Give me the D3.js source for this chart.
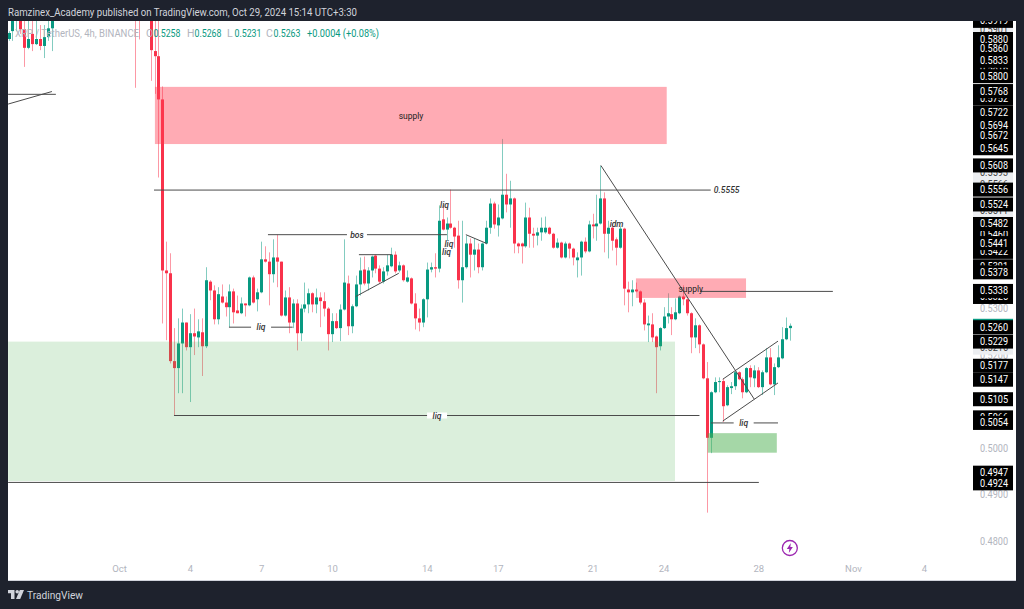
<!DOCTYPE html>
<html>
<head>
<meta charset="utf-8">
<script src="https://cdn.jsdelivr.net/npm/d3@7"></script>
<style>
html, body { margin: 0; padding: 0; background: #1e222d; }
svg { display: block; }
text { font-family: Roboto, sans-serif; }
</style>
</head>
<body>
<div class="canva"></div>
<script>
const n = null; // candle above the visible window, not readable

// 4h candles, first one is 28 candles before Oct 1
const firstCandle = -28;
const opens = [
.5880,.5897,.5930,.5925,.5901,.5861,.5891,.5869,.5880,.5865,
.5884,.5903,n,n,n,n,n,n,n,n,
n,n,n,n,n,n,n,n,n,n,
n,n,.6000,.5990,n,n,.5960,.5854,.5843,.5750,
.5382,.5376,.5187,.5172,.5225,.5270,.5217,.5247,.5238,.5249,
.5219,.5358,.5339,.5277,.5326,.5313,.5303,.5337,.5296,.5290,
.5311,.5307,.5367,.5320,.5335,.5406,.5401,.5374,.5410,.5401,
.5285,.5324,.5270,.5311,.5247,.5300,.5309,.5333,.5309,.5324,
.5316,.5300,.5245,.5273,.5258,.5298,.5354,.5262,.5305,.5352,
.5384,.5354,.5382,.5414,.5386,.5358,.5380,.5391,.5416,.5382,
.5393,.5358,.5365,.5311,.5279,.5270,.5320,.5384,.5389,.5386,
.5492,.5470,.5483,.5474,.5457,.5361,.5389,.5440,.5416,.5427,
.5389,.5440,.5474,.5526,.5479,.5494,.5545,.5524,.5537,.5440,
.5440,.5434,.5496,.5461,.5457,.5464,.5464,.5474,.5461,.5431,
.5442,.5410,.5440,.5429,.5404,.5410,.5444,.5423,.5481,.5477,
.5483,.5537,.5461,.5474,.5449,.5431,.5472,.5341,.5335,.5341,
.5337,.5313,.5264,.5266,.5240,.5219,.5258,.5283,.5288,.5277,
.5290,.5326,.5320,.5290,.5238,.5264,.5223,.5150,.5022,.5120,
.5142,.5144,.5092,.5129,.5133,.5163,.5148,.5120,.5172,.5150,
.5167,.5131,.5163,.5195,.5137,.5174,.5193,.5234,.5258];
const highs = [
.5897,.5950,.5960,.5950,.5930,.5925,.5925,.5920,.5910,.5910,
.5925,.5940,n,n,n,n,n,n,n,n,
n,n,n,n,n,n,n,n,n,n,
n,n,.6050,.6020,n,n,.5990,.5930,.5930,.5778,
.5444,.5419,.5258,.5279,.5300,.5270,.5288,.5300,.5277,.5279,
.5389,.5361,.5350,.5346,.5352,.5326,.5352,.5343,.5328,.5324,
.5311,.5369,.5371,.5343,.5444,.5434,.5421,.5449,.5459,.5401,
.5339,.5346,.5320,.5320,.5309,.5356,.5343,.5335,.5343,.5335,
.5335,.5303,.5290,.5290,.5309,.5449,.5371,.5309,.5371,.5410,
.5412,.5389,.5414,.5416,.5393,.5389,.5416,.5431,.5423,.5401,
.5395,.5382,.5367,.5333,.5300,.5322,.5399,.5399,.5419,.5522,
.5522,.5496,.5556,.5476,.5489,.5489,.5457,.5451,.5451,.5440,
.5442,.5489,.5537,.5530,.5524,.5665,.5590,.5575,.5539,.5442,
.5442,.5528,.5517,.5474,.5474,.5496,.5498,.5476,.5463,.5451,
.5444,.5444,.5442,.5431,.5421,.5446,.5453,.5489,.5504,.5545,
.5607,.5550,.5489,.5483,.5453,.5477,.5474,.5358,.5361,.5356,
.5339,.5320,.5285,.5290,.5242,.5260,.5303,.5333,.5303,.5322,
.5328,.5350,.5322,.5292,.5279,.5266,.5225,.5185,.5122,.5152,
.5152,.5150,.5135,.5142,.5167,.5165,.5152,.5174,.5178,.5178,
.5174,.5167,.5215,.5215,.5182,.5221,.5260,.5281,.5268];
const lows = [
.5876,.5876,.5897,.5891,.5820,.5858,.5854,.5867,.5856,.5839,
.5876,.5854,n,n,n,n,n,n,n,n,
n,n,n,n,n,n,n,n,n,n,
n,n,.5775,.5879,n,n,.5790,.5762,.5582,.5268,
.5232,.5182,.5069,.5118,.5118,.5210,.5099,.5200,.5217,.5155,
.5215,.5318,.5266,.5266,.5311,.5283,.5260,.5268,.5290,.5288,
.5283,.5305,.5311,.5294,.5333,.5399,.5307,.5356,.5346,.5283,
.5283,.5247,.5258,.5210,.5230,.5292,.5290,.5292,.5290,.5260,
.5283,.5210,.5228,.5256,.5230,.5296,.5243,.5247,.5303,.5328,
.5350,.5339,.5367,.5376,.5354,.5354,.5371,.5389,.5376,.5378,
.5358,.5356,.5309,.5255,.5251,.5260,.5281,.5378,.5367,.5378,
.5468,.5446,.5472,.5431,.5343,.5313,.5386,.5367,.5382,.5376,
.5382,.5438,.5461,.5472,.5455,.5492,.5507,.5474,.5419,.5419,
.5397,.5431,.5431,.5431,.5436,.5446,.5461,.5459,.5429,.5429,
.5408,.5408,.5408,.5393,.5367,.5371,.5419,.5421,.5451,.5446,
.5481,.5421,.5408,.5425,.5393,.5429,.5307,.5292,.5305,.5335,
.5309,.5253,.5228,.5228,.5118,.5210,.5256,.5268,.5243,.5275,
.5288,.5307,.5285,.5204,.5215,.5204,.5148,.4861,.4989,.5118,
.5120,.5056,.5090,.5116,.5125,.5146,.5107,.5118,.5131,.5131,
.5129,.5114,.5161,.5135,.5114,.5172,.5191,.5232,.5231];
const closes = [
.5893,.5925,.5950,.5901,.5861,.5880,.5869,.5880,.5865,.5884,
.5903,.5925,n,n,n,n,n,n,n,n,
n,n,n,n,n,n,n,n,n,n,
n,n,.5980,.5960,n,n,.5856,.5843,.5750,.5382,
.5376,.5187,.5172,.5225,.5270,.5217,.5247,.5240,.5251,.5219,
.5361,.5339,.5277,.5331,.5313,.5303,.5337,.5292,.5290,.5311,
.5307,.5367,.5313,.5335,.5406,.5401,.5374,.5410,.5401,.5285,
.5324,.5270,.5311,.5247,.5300,.5309,.5333,.5309,.5324,.5316,
.5300,.5245,.5273,.5258,.5298,.5356,.5262,.5305,.5352,.5382,
.5354,.5382,.5412,.5386,.5358,.5380,.5393,.5416,.5380,.5393,
.5361,.5367,.5311,.5279,.5270,.5320,.5384,.5389,.5386,.5489,
.5470,.5483,.5474,.5455,.5361,.5389,.5440,.5416,.5427,.5389,
.5440,.5474,.5526,.5481,.5496,.5545,.5524,.5537,.5440,.5434,
.5434,.5496,.5461,.5457,.5464,.5474,.5474,.5461,.5431,.5442,
.5410,.5440,.5429,.5410,.5410,.5444,.5423,.5481,.5477,.5483,
.5537,.5461,.5474,.5446,.5431,.5472,.5343,.5335,.5341,.5337,
.5313,.5266,.5268,.5238,.5217,.5258,.5283,.5290,.5277,.5292,
.5326,.5320,.5290,.5238,.5264,.5223,.5150,.5022,.5120,.5142,
.5144,.5090,.5131,.5133,.5163,.5148,.5120,.5172,.5152,.5167,
.5131,.5163,.5195,.5137,.5174,.5195,.5234,.5258,.5263];

// axis
const xTickDays = ['2024-10-01','2024-10-04','2024-10-07','2024-10-10','2024-10-14','2024-10-17','2024-10-21','2024-10-24','2024-10-28','2024-11-01','2024-11-04'];
const xTickLabels = ['Oct','4','7','10','14','17','21','24','28','Nov','4'];
const plainPrices = [0.53,0.52,0.50,0.49,0.48];
const labelPrices = ['0.5880','0.5860','0.5833','0.5800','0.5768','0.5722','0.5694','0.5672','0.5645','0.5608','0.5556','0.5524','0.5482','0.5441','0.5378','0.5338','0.5260','0.5229','0.5177','0.5147','0.5105','0.5054','0.4947','0.4924'];
const hiddenPrices = ['0.5919','0.5816','0.5752','0.5460','0.5422','0.5391','0.5325','0.5066'];
const fadedPrices = ['0.5901','0.5593','0.5566','0.5511','0.5216'];

// drawings, [candle, price] pairs
const zoneBoxes = [
  {k:[9.1,138.8],  p:[.5777,.5654], fill:'rgba(255,60,80,.43)'},
  {k:[-28.1,140.9],p:[.5229,.4929], fill:'rgba(76,175,80,.2)'},
  {k:[149.2,166.7],p:[.5032,.4990], fill:'rgba(76,175,80,.5)'},
  {k:[131,158.9],  p:[.5365,.5323], fill:'rgba(255,60,80,.43)'}
];
const trendLines = [
  [-28.1,.5761,-16,.5761],[-28.1,.5740,-17,.5767],
  [8.87,.5555,157.8,.5555],
  [37.75,.5459,83.1,.5459],
  [27.87,.5260,44,.5260],
  [13.93,.5070,147.1,.5070],
  [-28.1,.4926,162.15,.4926],
  [147.2,.5337,180.9,.5337],
  [122.1,.5608,161,.5105],
  [153,.5148,167,.5230],[153,.5058,167,.5140],
  [150,.5054,167,.5054],
  [60.8,.5416,69.2,.5416],[60,.5326,70.9,.5376],
  [87.9,.5459,93.2,.5440]
];
const tagLabels = [
  {k:154,p:.5555,t:'0.5555',gap:true},
  {k:60.3,p:.5459,t:'bos',gap:true},
  {k:36,p:.5260,t:'liq',gap:true},
  {k:80.6,p:.5070,t:'liq',gap:true},
  {k:158.3,p:.5054,t:'liq',gap:true},
  {k:82.5,p:.5522,t:'liq'},
  {k:83.6,p:.5440,t:'liq'},
  {k:83,p:.5421,t:'liq'},
  {k:126.1,p:.5481,t:'idm'}
];
const zoneLabels = [
  {k:74,p:.5714,t:'supply'},
  {k:144.9,p:.5343,t:'supply'}
];

const svg = d3.select('.canva').append('svg')
  .attr('width',1024)
  .attr('height',609);

const x = d3.scaleUtc()
  .domain([Date.UTC(2024,9,1),Date.UTC(2024,10,4)])
  .range([119,924]);
const y = d3.scaleLinear()
  .domain([0.48,0.588])
  .range([541,39]);
const t = k => new Date(Date.UTC(2024,9,1) + k*4*3600*1000);
const xk = k => x(t(k));

const candles = d3.range(opens.length)
  .map(i => ({k:i+firstCandle, o:opens[i], h:highs[i], l:lows[i], c:closes[i]}))
  .filter(d => d.o !== null);

const red = '#f9324b', green = '#089981';

svg.append('rect').attr('x',8).attr('y',21).attr('width',1008).attr('height',559).attr('fill','#fff');
svg.append('clipPath').attr('id','plot').append('rect').attr('x',8).attr('y',21).attr('width',1008).attr('height',559);
const plot = svg.append('g').attr('clip-path','url(#plot)');

// wicks
plot.selectAll('line.wick').data(candles).enter().append('line')
  .attr('class','wick')
  .attr('x1',d => Math.round(xk(d.k))+.5).attr('x2',d => Math.round(xk(d.k))+.5)
  .attr('y1',d => y(d.h)).attr('y2',d => y(d.l))
  .attr('stroke',d => d.c>=d.o ? green : red)
  .attr('stroke-opacity',.5);
// bodies
plot.selectAll('rect.body').data(candles).enter().append('rect')
  .attr('class','body')
  .attr('x',d => Math.round(xk(d.k))-1).attr('width',3)
  .attr('y',d => y(Math.max(d.o,d.c)))
  .attr('height',d => Math.max(1,Math.abs(y(d.o)-y(d.c))))
  .attr('fill',d => d.c>=d.o ? green : red);

// zones
plot.selectAll('rect.zone').data(zoneBoxes).enter().append('rect')
  .attr('class','zone')
  .attr('x',d => xk(d.k[0])).attr('width',d => xk(d.k[1])-xk(d.k[0]))
  .attr('y',d => y(d.p[0])).attr('height',d => y(d.p[1])-y(d.p[0]))
  .attr('fill',d => d.fill);

// lines
plot.selectAll('line.draw').data(trendLines).enter().append('line')
  .attr('class','draw')
  .attr('x1',d => xk(d[0])).attr('y1',d => y(d[1]))
  .attr('x2',d => xk(d[2])).attr('y2',d => y(d[3]))
  .attr('stroke','#4b4b4b').attr('stroke-width',1);

// labels sitting on the lines, white gap behind
const tags = plot.selectAll('g.tag').data(tagLabels).enter().append('g').attr('class','tag');
tags.filter(d => d.gap).append('rect')
  .attr('x',d => xk(d.k) - (d.t.length*2+4)).attr('width',d => d.t.length*4+8)
  .attr('y',d => y(d.p)-3).attr('height',6).attr('fill','#fff');
tags.append('text')
  .attr('x',d => xk(d.k)).attr('y',d => y(d.p)+3)
  .attr('text-anchor','middle')
  .attr('font-size',8.5).attr('font-style','italic').attr('font-weight',500)
  .attr('fill','#333')
  .text(d => d.t);

plot.selectAll('text.zoneLabel').data(zoneLabels).enter().append('text')
  .attr('class','zoneLabel')
  .attr('x',d => xk(d.k)).attr('y',d => y(d.p)+3)
  .attr('text-anchor','middle')
  .attr('font-size',8.5).attr('fill','#222')
  .text(d => d.t);

// bolt marker
const bolt = plot.append('g').attr('transform',`translate(${xk(170)},548)`);
bolt.append('circle').attr('r',7.5).attr('fill','#fff').attr('stroke','#9c27b0').attr('stroke-width',1.3);
bolt.append('path').attr('d','M1,-5 L-3,1 L-0.5,1 L-1,5 L3,-1 L0.5,-1 Z').attr('fill','#9c27b0');

// the reference font is narrower than Roboto, squeeze to the measured width
const squeeze = (sel, w) => sel.attr('textLength',w).attr('lengthAdjust','spacingAndGlyphs');

// price axis, plain ticks
const yAxis = d3.axisRight(y).tickValues(plainPrices).tickFormat(d3.format('.4f')).tickSize(0).tickPadding(0);
const yG = plot.append('g').attr('transform','translate(980,0)').call(yAxis);
yG.select('.domain').remove();
yG.selectAll('text').attr('fill','#b2b5be').attr('font-size',10.5).attr('font-family','Roboto, sans-serif').call(squeeze,28);

// labels of drawings on the price axis
function priceBox(sel, list, fill, color){
  const g = sel.selectAll(null).data(list).enter().append('g');
  g.append('rect').attr('x',973).attr('width',40).attr('height',14)
    .attr('y',d => y(+d)-7).attr('fill',fill);
  g.append('text').attr('x',980).attr('y',d => y(+d)+3.5)
    .attr('font-size',10.5).attr('fill',color).text(d => d).call(squeeze,28);
}
priceBox(plot,['0.5263'],green,'#fff');
priceBox(plot,fadedPrices,'#eceef1','#444');
priceBox(plot,hiddenPrices,'#000','#fff');
plot.selectAll('rect.lab').data(labelPrices).enter().append('rect')
  .attr('class','lab').attr('x',973).attr('width',40).attr('height',14)
  .attr('y',d => y(+d)-7).attr('fill','#000');
plot.selectAll('text.lab').data(labelPrices).enter().append('text')
  .attr('class','lab').attr('x',980).attr('y',d => y(+d)+3.5)
  .attr('font-size',10.5).attr('fill','#fff').text(d => d).call(squeeze,28);

// time axis
const xAxis = d3.axisBottom(x)
  .tickValues(xTickDays.map(d => new Date(d+'T00:00:00Z')))
  .tickFormat((d,i) => xTickLabels[i])
  .tickSize(0).tickPadding(0);
const xG = plot.append('g').attr('transform','translate(0,565)').call(xAxis);
xG.select('.domain').remove();
xG.selectAll('text').attr('fill','#b2b5be').attr('font-size',9.5).attr('font-family','Roboto, sans-serif');

// legend over the chart
svg.append('text').attr('x',15).attr('y',36.5).attr('font-size',10.5).attr('fill','#b2b5be')
  .text('XRP / TetherUS, 4h, BINANCE').call(squeeze,124);
const ohlc = [['O','0.5258',146],['H','0.5268',187],['L','0.5231',227],['C','0.5263',266]];
ohlc.forEach(d => {
  svg.append('text').attr('x',d[2]).attr('y',36.5).attr('font-size',10.5).attr('fill','#b2b5be').text(d[0]);
  svg.append('text').attr('x',d[2]+7.5).attr('y',36.5).attr('font-size',10.5).attr('fill',green).text(d[1]).call(squeeze,27);
});
svg.append('text').attr('x',307).attr('y',36.5).attr('font-size',10.5).attr('fill',green).text('+0.0004 (+0.08%)').call(squeeze,72);

// header, footer
svg.append('rect').attr('width',1024).attr('height',21).attr('fill','#1e222d');
svg.append('line').attr('x1',8).attr('x2',1016).attr('y1',580.5).attr('y2',580.5).attr('stroke','#d1d4dc');
svg.append('text').attr('x',8).attr('y',16).attr('font-size',11).attr('fill','#d1d4dc')
  .text('Ramzinex_Academy published on TradingView.com, Oct 29, 2024 15:14 UTC+3:30').call(squeeze,349);

const logo = svg.append('g').attr('transform','translate(8,590)').attr('fill','#d1d4dc');
logo.append('path').attr('d','M0,0 H6.5 V9 H3 V3.2 H0 Z');
logo.append('circle').attr('cx',9.2).attr('cy',1.8).attr('r',1.8);
logo.append('path').attr('d','M11.8,0 H16 L12.2,9 H8 Z');
svg.append('text').attr('x',27).attr('y',599).attr('font-size',11.5).attr('fill','#d1d4dc').text('TradingView').call(squeeze,56);
</script>
</body>
</html>
